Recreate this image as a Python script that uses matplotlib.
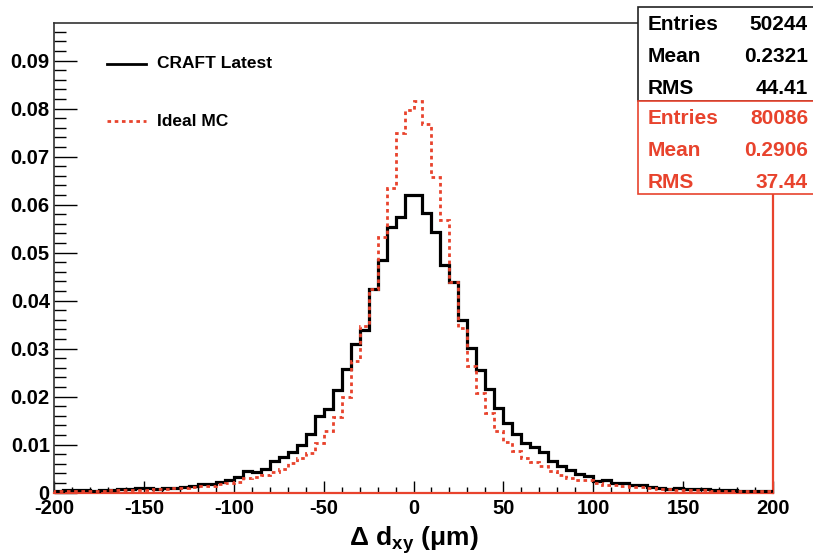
import numpy as np
import matplotlib
matplotlib.use("Agg")
import matplotlib.pyplot as plt
from matplotlib.ticker import MultipleLocator
from matplotlib.patches import Rectangle
from matplotlib.lines import Line2D

plt.rcParams['font.family'] = ['Liberation Sans', 'DejaVu Sans']
plt.rcParams['font.weight'] = 'bold'
plt.rcParams['mathtext.fontset'] = 'custom'
plt.rcParams['mathtext.rm'] = 'Liberation Sans:bold'
plt.rcParams['mathtext.it'] = 'Liberation Sans:bold'
plt.rcParams['mathtext.bf'] = 'Liberation Sans:bold'

# Histogram binning: 80 bins of 5 um between -200 and 200
x_min, x_max, bin_width = -200, 200, 5

craft_latest = [
    0.0004, 0.0005, 0.0006, 0.0005, 0.0004, 0.0006, 0.0006, 0.0007, 0.0007, 0.0009,
    0.0009, 0.0008, 0.0010, 0.0010, 0.0011, 0.0014, 0.0018, 0.0018, 0.0021, 0.0026,
    0.0032, 0.0045, 0.0042, 0.0048, 0.0066, 0.0075, 0.0084, 0.0100, 0.0121, 0.0160,
    0.0173, 0.0214, 0.0258, 0.0310, 0.0338, 0.0424, 0.0485, 0.0553, 0.0575, 0.0619,
    0.0619, 0.0582, 0.0542, 0.0475, 0.0438, 0.0359, 0.0301, 0.0255, 0.0215, 0.0176,
    0.0144, 0.0122, 0.0103, 0.0094, 0.0084, 0.0066, 0.0055, 0.0047, 0.0039, 0.0034,
    0.0024, 0.0026, 0.0020, 0.0020, 0.0016, 0.0016, 0.0011, 0.0009, 0.0008, 0.0009,
    0.0007, 0.0007, 0.0008, 0.0005, 0.0006, 0.0005, 0.0004, 0.0004, 0.0004, 0.0004,
]

ideal_mc = [
    0.0003, 0.0004, 0.0003, 0.0004, 0.0004, 0.0004, 0.0005, 0.0005, 0.0006, 0.0006,
    0.0006, 0.0007, 0.0008, 0.0009, 0.0010, 0.0012, 0.0013, 0.0014, 0.0018, 0.0019,
    0.0022, 0.0030, 0.0032, 0.0036, 0.0043, 0.0048, 0.0061, 0.0071, 0.0083, 0.0104,
    0.0129, 0.0158, 0.0199, 0.0274, 0.0347, 0.0424, 0.0532, 0.0635, 0.0749, 0.0796,
    0.0815, 0.0768, 0.0658, 0.0567, 0.0438, 0.0343, 0.0263, 0.0208, 0.0165, 0.0129,
    0.0106, 0.0087, 0.0072, 0.0064, 0.0055, 0.0045, 0.0036, 0.0030, 0.0027, 0.0026,
    0.0019, 0.0016, 0.0016, 0.0014, 0.0011, 0.0011, 0.0009, 0.0007, 0.0007, 0.0006,
    0.0006, 0.0005, 0.0005, 0.0004, 0.0004, 0.0004, 0.0003, 0.0003, 0.0003, 0.0003,
]

series_labels = ["CRAFT Latest", "Ideal MC"]
stats_labels = ["Entries", "Mean", "RMS"]
craft_stats = ["50244", "0.2321", "44.41"]
mc_stats = ["80086", "0.2906", "37.44"]

RED = '#e8432d'
W, H = 813, 556

edges = np.arange(x_min, x_max + bin_width, bin_width)

fig = plt.figure(figsize=(W / 100, H / 100), dpi=100)
left, right, top, bottom = 54, 773, 23.3, 492.5
ax = fig.add_axes([left / W, 1 - bottom / H, (right - left) / W, (bottom - top) / H])

ax.stairs(craft_latest, edges, color='black', lw=2.3, zorder=3)
ax.stairs(ideal_mc, edges, color=RED, lw=2.0, linestyle=(0, (1.3, 1.3)), zorder=4)

ax.set_xlim(x_min, x_max)
ax.set_ylim(0, 0.09775)

ax.xaxis.set_major_locator(MultipleLocator(50))
ax.xaxis.set_minor_locator(MultipleLocator(10))
ax.yaxis.set_major_locator(MultipleLocator(0.01))
ax.yaxis.set_minor_locator(MultipleLocator(0.002))
ax.yaxis.set_major_formatter(plt.FuncFormatter(lambda v, p: '0' if abs(v) < 1e-9 else f'{v:.2f}'))
ax.xaxis.set_major_formatter(plt.FuncFormatter(lambda v, p: f'{v:.0f}'))

ax.tick_params(axis='x', which='major', direction='in', length=8.6, width=1.0, pad=5,
               labelsize=14.5, top=False)
ax.tick_params(axis='x', which='minor', direction='in', length=4.3, width=1.0, top=False)
ax.tick_params(axis='y', which='major', direction='in', length=16.5, width=1.0, pad=3,
               labelsize=14.5, right=False)
ax.tick_params(axis='y', which='minor', direction='in', length=8.6, width=1.0, right=False)
for lab in ax.get_xticklabels() + ax.get_yticklabels():
    lab.set_fontweight('bold')

for side in ('left', 'top'):
    ax.spines[side].set_color('#333333')
    ax.spines[side].set_linewidth(1.2)
ax.spines['bottom'].set_color(RED)
ax.spines['bottom'].set_linewidth(1.6)
ax.spines['right'].set_color(RED)
ax.spines['right'].set_linewidth(1.6)

ax.set_xlabel(r'$\Delta\ d_{xy}\ (\mu m)$', fontsize=19, labelpad=4)

# Legend entries drawn in figure pixel coordinates
def fx(px):
    return px / W

def fy(py):
    return 1 - py / H

fig.add_artist(Line2D([fx(107), fx(146)], [fy(64), fy(64)], color='black', lw=2.0))
fig.text(fx(157), fy(64), series_labels[0], fontsize=12.5, fontweight='bold',
         va='center', ha='left')
fig.add_artist(Line2D([fx(107), fx(146)], [fy(121), fy(121)], color=RED, lw=2.0,
                      linestyle=(0, (1.3, 1.3))))
fig.text(fx(157), fy(122), series_labels[1], fontsize=12.5, fontweight='bold',
         va='center', ha='left')

# Statistics boxes
box_left = 638
fig.add_artist(Rectangle((fx(box_left), fy(101)), fx(W + 5) - fx(box_left), fy(7.3) - fy(101),
                         transform=fig.transFigure, facecolor='white', edgecolor='#222222',
                         lw=1.2, zorder=10))
fig.add_artist(Rectangle((fx(box_left), fy(194.5)), fx(W + 5) - fx(box_left), fy(101) - fy(194.5),
                         transform=fig.transFigure, facecolor='white', edgecolor=RED,
                         lw=1.2, zorder=11))

for rows, ys, col in ((craft_stats, (24, 57, 88), 'black'), (mc_stats, (118, 150, 182), RED)):
    for name, val, y in zip(stats_labels, rows, ys):
        fig.text(fx(648), fy(y), name, fontsize=15, fontweight='bold', color=col,
                 va='center', ha='left', zorder=12)
        fig.text(fx(808), fy(y), val, fontsize=15, fontweight='bold', color=col,
                 va='center', ha='right', zorder=12)

fig.savefig('out.png', dpi=100)
